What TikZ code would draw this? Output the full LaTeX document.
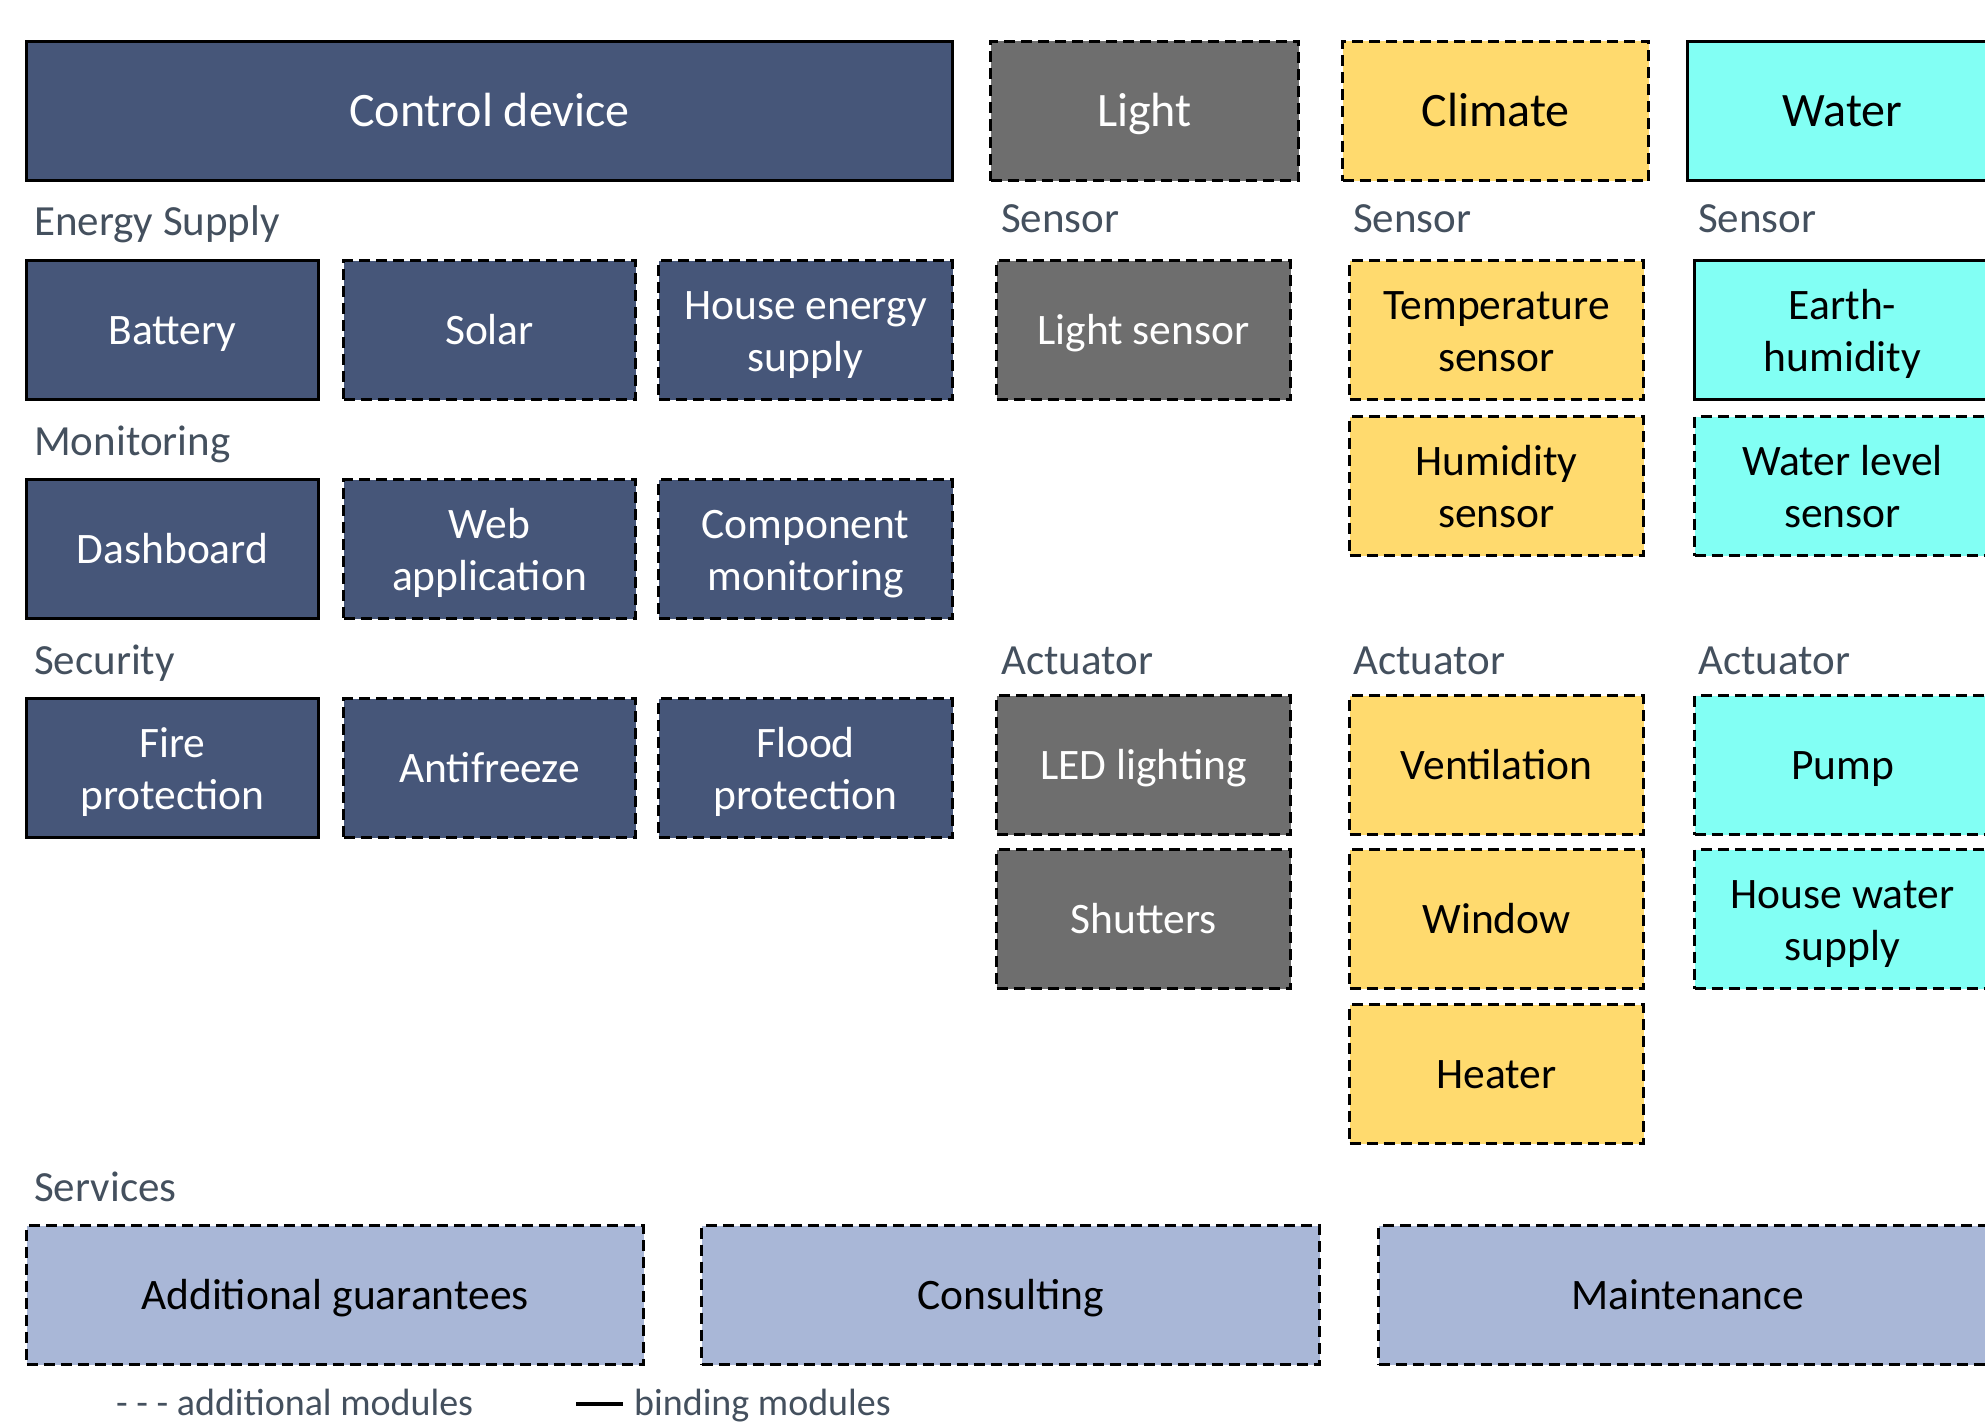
\documentclass[tikz,border=0pt]{standalone}
\usepackage{fontspec}
\setmainfont{Carlito}
\definecolor{cblue}{HTML}{465679}
\definecolor{cgray}{HTML}{6E6E6E}
\definecolor{cyel}{HTML}{FFDA6E}
\definecolor{ccya}{HTML}{82FFF4}
\definecolor{csrv}{HTML}{A9B7D7}
\definecolor{clabel}{HTML}{44505E}
\begin{document}
\begin{tikzpicture}[x=1pt,y=-1pt,
  box/.style={draw=black, line width=3pt, anchor=north west, inner sep=0pt,
    align=center, font=\fontsize{43.5}{52}\selectfont, minimum height=139pt,
    /utils/exec={\def\boxH{40pt}\def\boxD{11pt}},
    execute at begin node={\rule{0pt}{\boxH}},
    execute at end node={\rule[-\boxD]{0pt}{0pt}}},
  two/.style={/utils/exec={\def\boxH{93pt}\def\boxD{11pt}}},
  head/.style={font=\fontsize{48}{52}\selectfont, /utils/exec={\def\boxH{41.5pt}\def\boxD{10.5pt}}},
  add/.style={dash pattern=on 11pt off 6pt},
  blu/.style={fill=cblue, text=white},
  gry/.style={fill=cgray, text=white},
  yel/.style={fill=cyel, text=black},
  cya/.style={fill=ccya, text=black},
  srv/.style={fill=csrv, text=black},
  grp/.style={anchor=base west, inner sep=0pt, text=clabel, font=\fontsize{43}{48}\selectfont},
  leg/.style={anchor=base west, inner sep=0pt, text=clabel, font=\fontsize{38}{42}\selectfont}]
\useasboundingbox (0,0) rectangle (1985,1426);
\clip (0,0) rectangle (1985,1426);
% top row
\node[box,head,blu,minimum width=926pt] (ctrl) at (25,40) {Control device};
\node[box,head,gry,add,minimum width=308pt] (light) at (989,40) {Light};
\node[box,head,yel,add,minimum width=306pt] (climate) at (1341,40) {Climate};
\node[box,head,cya,minimum width=310pt] (water) at (1686,40) {Water};
% group labels
\node[grp] (lenergy) at (34,235) {Energy Supply};
\node[grp] (lsens1) at (1001,232) {Sensor};
\node[grp] (lsens2) at (1353,232) {Sensor};
\node[grp] (lsens3) at (1698,232) {Sensor};
\node[grp] (lmon) at (34,455) {Monitoring};
\node[grp] (lsec) at (34,674) {Security};
\node[grp] (lact1) at (1001,674) {Actuator};
\node[grp] (lact2) at (1353,674) {Actuator};
\node[grp] (lact3) at (1698,674) {Actuator};
\node[grp] (lserv) at (34,1201) {Services};
% energy supply
\node[box,blu,minimum width=292pt] (battery) at (25,259) {Battery};
\node[box,blu,add,minimum width=292pt] (solar) at (342,259) {Solar};
\node[box,two,blu,add,minimum width=294pt] (house) at (657,259) {House energy\\supply};
% monitoring
\node[box,blu,minimum width=292pt] (dash) at (25,478) {Dashboard};
\node[box,two,blu,add,minimum width=292pt] (web) at (342,478) {Web\\application};
\node[box,two,blu,add,minimum width=294pt] (comp) at (657,478) {Component\\monitoring};
% security
\node[box,two,blu,minimum width=292pt] (fire) at (25,697) {Fire\\protection};
\node[box,blu,add,minimum width=292pt] (anti) at (342,697) {Antifreeze};
\node[box,two,blu,add,minimum width=294pt] (flood) at (657,697) {Flood\\protection};
% light
\node[box,gry,add,minimum width=294pt] (lsensor) at (995,259) {Light sensor};
\node[box,gry,add,minimum width=294pt] (led) at (995,694) {LED lighting};
\node[box,gry,add,minimum width=294pt] (shut) at (995,848) {Shutters};
% climate
\node[box,two,yel,add,minimum width=294pt] (temp) at (1348,259) {Temperature\\sensor};
\node[box,two,yel,add,minimum width=294pt] (hum) at (1348,415) {Humidity\\sensor};
\node[box,yel,add,minimum width=294pt] (vent) at (1348,694) {Ventilation};
\node[box,yel,add,minimum width=294pt] (window) at (1348,848) {Window};
\node[box,yel,add,minimum width=294pt] (heater) at (1348,1003) {Heater};
% water
\node[box,two,cya,minimum width=296pt] (earth) at (1693,259) {Earth-\\humidity};
\node[box,two,cya,add,minimum width=296pt] (wlevel) at (1693,415) {Water level\\sensor};
\node[box,cya,add,minimum width=296pt] (pump) at (1693,694) {Pump};
\node[box,two,cya,add,minimum width=296pt] (hwater) at (1693,848) {House water\\supply};
% services
\node[box,srv,add,minimum width=617pt] (guar) at (25,1224) {Additional guarantees};
\node[box,srv,add,minimum width=618pt] (consult) at (700,1224) {Consulting};
\node[box,srv,add,minimum width=618pt] (maint) at (1377,1224) {Maintenance};
% legend
\node[leg] (lega) at (116,1415) {- - - additional modules};
\coordinate (legl1) at (576,1404);
\coordinate (legl2) at (623,1404);
\draw[line width=4pt, draw=black] (legl1) -- (legl2);
\node[leg] (legb) at (634,1415) {binding modules};
\end{tikzpicture}
\end{document}
